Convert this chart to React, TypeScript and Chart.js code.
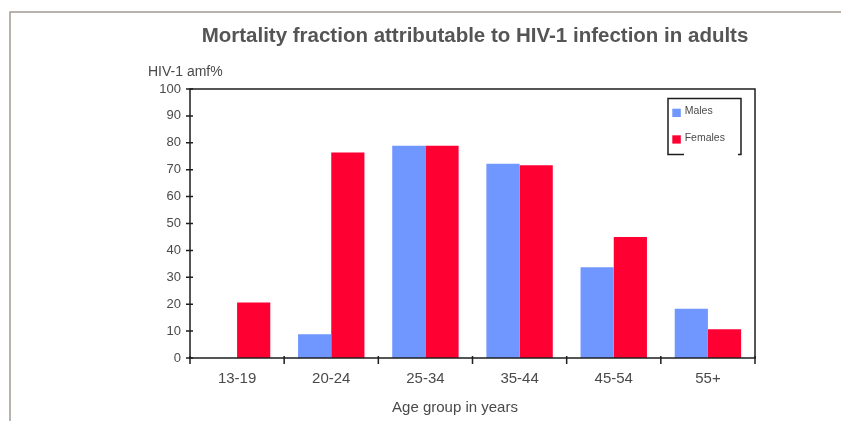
import React, { useEffect, useRef } from "react";
import { Chart, registerables } from "chart.js";

Chart.register(...registerables);

const categories = ["13-19", "20-24", "25-34", "35-44", "45-54", "55+"];
const males = [0, 8.8, 78.9, 72.2, 33.7, 18.3];
const females = [20.6, 76.4, 78.9, 71.7, 45.0, 10.7];
const seriesNames = ["Males", "Females"];
const seriesColors = ["#6f97ff", "#ff0033"];
const yTickValues = [0, 10, 20, 30, 40, 50, 60, 70, 80, 90, 100];
const chartTitle = "Mortality fraction attributable to HIV-1 infection in adults";
const yAxisLabel = "HIV-1 amf%";
const xAxisLabel = "Age group in years";

const FONT = "'Liberation Sans', Arial, Helvetica, sans-serif";
const TEXT = "#4a4a4a";
const W = 841;
const H = 421;

const decor = {
  id: "decor",
  afterDraw(chart: any) {
    const ctx = chart.ctx as CanvasRenderingContext2D;
    const { left, right, top, bottom } = chart.chartArea;
    const xs = chart.scales.x;
    const ys = chart.scales.y;
    ctx.save();

    // outer frame
    ctx.strokeStyle = "#a39b92";
    ctx.lineWidth = 1.5;
    ctx.beginPath();
    ctx.moveTo(10, H + 2);
    ctx.lineTo(10, 12);
    ctx.lineTo(W + 2, 12);
    ctx.stroke();

    // plot box
    ctx.strokeStyle = "#1e1e1e";
    ctx.lineWidth = 1.5;
    ctx.strokeRect(left, top, right - left, bottom - top);

    // y ticks (crossing axis)
    ctx.beginPath();
    yTickValues.forEach((v) => {
      const py = ys.getPixelForValue(v);
      ctx.moveTo(left - 4, py);
      ctx.lineTo(left + 3, py);
    });
    // x ticks at category boundaries
    for (let i = 0; i <= categories.length; i++) {
      const px = xs.getPixelForValue(i - 0.5);
      ctx.moveTo(px, bottom - 2);
      ctx.lineTo(px, bottom + 6);
    }
    ctx.stroke();

    // title
    ctx.fillStyle = "#555555";
    ctx.textBaseline = "alphabetic";
    ctx.textAlign = "center";
    ctx.font = `bold 20.5px ${FONT}`;
    ctx.fillText(chartTitle, 475, 42);

    // y axis label
    ctx.fillStyle = TEXT;
    ctx.textAlign = "left";
    ctx.font = `14px ${FONT}`;
    ctx.fillText(yAxisLabel, 148, 76);

    // x axis label
    ctx.textAlign = "center";
    ctx.font = `15px ${FONT}`;
    ctx.fillText(xAxisLabel, 455, 412);

    // legend
    const lx = 668, ly = 98.5, lw = 73, lh = 56;
    ctx.strokeStyle = "#1e1e1e";
    ctx.lineWidth = 1.5;
    ctx.beginPath();
    ctx.moveTo(lx + 16, ly + lh);
    ctx.lineTo(lx, ly + lh);
    ctx.lineTo(lx, ly);
    ctx.lineTo(lx + lw, ly);
    ctx.lineTo(lx + lw, ly + lh);
    ctx.lineTo(lx + lw - 3, ly + lh);
    ctx.stroke();

    ctx.font = `10.5px ${FONT}`;
    ctx.textAlign = "left";
    const rows = [
      { sq: 108.7, base: 114 },
      { sq: 135.3, base: 141 },
    ];
    seriesNames.forEach((name, i) => {
      ctx.fillStyle = seriesColors[i];
      ctx.fillRect(672.3, rows[i].sq, 8.5, 8.3);
      ctx.fillStyle = TEXT;
      ctx.fillText(name, 684.7, rows[i].base);
    });

    ctx.restore();
  },
};

export default function App() {
  const ref = useRef<HTMLCanvasElement | null>(null);

  useEffect(() => {
    if (!ref.current) return;
    const chart = new Chart(ref.current, {
      type: "bar",
      data: {
        labels: categories,
        datasets: [
          {
            label: seriesNames[0],
            data: males,
            backgroundColor: seriesColors[0],
            borderWidth: 0,
            categoryPercentage: 0.705,
            barPercentage: 1,
          },
          {
            label: seriesNames[1],
            data: females,
            backgroundColor: seriesColors[1],
            borderWidth: 0,
            categoryPercentage: 0.705,
            barPercentage: 1,
          },
        ],
      },
      options: {
        animation: false,
        responsive: false,
        devicePixelRatio: 1,
        layout: { padding: { top: 89, right: W - 755, left: 0, bottom: 0 } },
        plugins: {
          legend: { display: false },
          title: { display: false },
          tooltip: { enabled: false },
        },
        scales: {
          x: {
            grid: { display: false, drawTicks: false },
            border: { display: false },
            ticks: {
              color: TEXT,
              padding: 12,
              font: { family: FONT, size: 15 },
            },
            afterFit: (s: any) => {
              s.height = H - 358;
            },
          },
          y: {
            min: 0,
            max: 100,
            grid: { display: false, drawTicks: false },
            border: { display: false },
            ticks: {
              stepSize: 10,
              color: TEXT,
              padding: 9,
              font: { family: FONT, size: 13 },
            },
            afterFit: (s: any) => {
              s.width = 190;
            },
          },
        },
      },
      plugins: [decor],
    });
    return () => chart.destroy();
  }, []);

  return (
    <>
      <style>{`html,body{margin:0;padding:0;overflow:hidden;background:#fff}`}</style>
      <div style={{ width: W, height: H }}>
        <canvas ref={ref} width={W} height={H} style={{ display: "block" }} />
      </div>
    </>
  );
}
